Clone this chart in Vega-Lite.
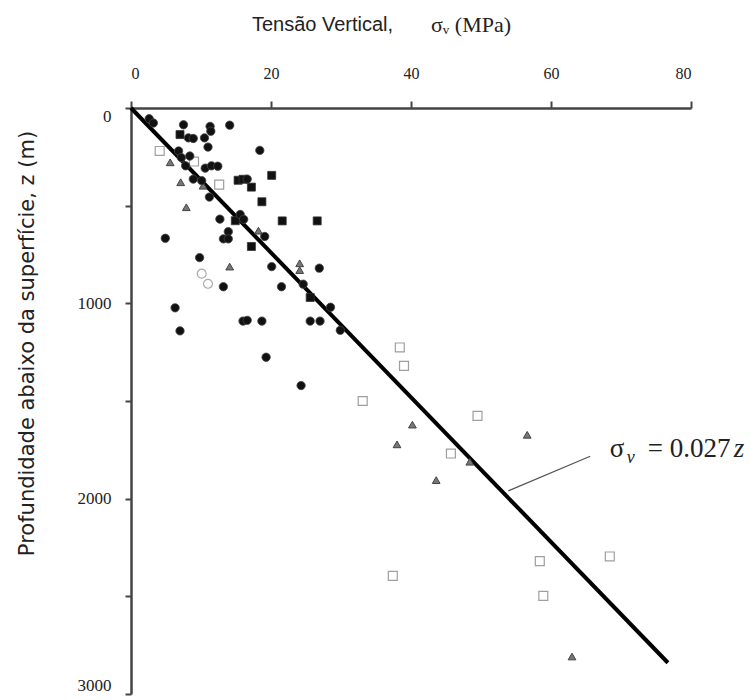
{
  "$schema": "https://vega.github.io/schema/vega-lite/v6.json",
  "width": 560,
  "height": 586,
  "autosize": "none",
  "padding": {"left": 131, "top": 108, "right": 60, "bottom": 6},
  "background": "white",
  "config": {"view": {"stroke": null}, "axis": {"grid": false}},
  "title": {"text": "σᵥ  (MPa)", "anchor": "start", "frame": "group", "dx": 300, "dy": 27, "font": "Liberation Serif", "fontSize": 22, "fontWeight": "normal", "color": "#222"},
  "datasets": {
    "pts": [
      {"sigma": 2.6, "z": 55, "type": "circle"},
      {"sigma": 3.2, "z": 77, "type": "circle"},
      {"sigma": 7.5, "z": 86, "type": "circle"},
      {"sigma": 11.3, "z": 94, "type": "circle"},
      {"sigma": 11.4, "z": 119, "type": "circle"},
      {"sigma": 14.1, "z": 88, "type": "circle"},
      {"sigma": 8.2, "z": 153, "type": "circle"},
      {"sigma": 8.9, "z": 156, "type": "circle"},
      {"sigma": 10.5, "z": 153, "type": "circle"},
      {"sigma": 11.0, "z": 200, "type": "circle"},
      {"sigma": 6.8, "z": 220, "type": "circle"},
      {"sigma": 18.4, "z": 217, "type": "circle"},
      {"sigma": 7.2, "z": 254, "type": "circle"},
      {"sigma": 8.4, "z": 246, "type": "circle"},
      {"sigma": 7.8, "z": 296, "type": "circle"},
      {"sigma": 10.6, "z": 308, "type": "circle"},
      {"sigma": 11.5, "z": 296, "type": "circle"},
      {"sigma": 12.4, "z": 298, "type": "circle"},
      {"sigma": 8.9, "z": 364, "type": "circle"},
      {"sigma": 10.1, "z": 372, "type": "circle"},
      {"sigma": 16.6, "z": 364, "type": "circle"},
      {"sigma": 11.2, "z": 456, "type": "circle"},
      {"sigma": 12.7, "z": 569, "type": "circle"},
      {"sigma": 15.6, "z": 545, "type": "circle"},
      {"sigma": 16.1, "z": 570, "type": "circle"},
      {"sigma": 13.9, "z": 633, "type": "circle"},
      {"sigma": 13.2, "z": 670, "type": "circle"},
      {"sigma": 13.9, "z": 670, "type": "circle"},
      {"sigma": 19.1, "z": 658, "type": "circle"},
      {"sigma": 4.9, "z": 667, "type": "circle"},
      {"sigma": 9.8, "z": 766, "type": "circle"},
      {"sigma": 20.1, "z": 812, "type": "circle"},
      {"sigma": 26.9, "z": 820, "type": "circle"},
      {"sigma": 13.2, "z": 915, "type": "circle"},
      {"sigma": 21.5, "z": 915, "type": "circle"},
      {"sigma": 24.6, "z": 902, "type": "circle"},
      {"sigma": 28.5, "z": 1020, "type": "circle"},
      {"sigma": 6.3, "z": 1023, "type": "circle"},
      {"sigma": 7.0, "z": 1141, "type": "circle"},
      {"sigma": 16.0, "z": 1091, "type": "circle"},
      {"sigma": 16.6, "z": 1087, "type": "circle"},
      {"sigma": 18.7, "z": 1091, "type": "circle"},
      {"sigma": 25.6, "z": 1091, "type": "circle"},
      {"sigma": 27.0, "z": 1091, "type": "circle"},
      {"sigma": 29.9, "z": 1138, "type": "circle"},
      {"sigma": 19.3, "z": 1276, "type": "circle"},
      {"sigma": 24.3, "z": 1421, "type": "circle"},
      {"sigma": 7.0, "z": 136, "type": "square"},
      {"sigma": 15.3, "z": 370, "type": "square"},
      {"sigma": 16.0, "z": 365, "type": "square"},
      {"sigma": 17.2, "z": 405, "type": "square"},
      {"sigma": 20.1, "z": 345, "type": "square"},
      {"sigma": 18.7, "z": 480, "type": "square"},
      {"sigma": 14.9, "z": 577, "type": "square"},
      {"sigma": 21.6, "z": 578, "type": "square"},
      {"sigma": 26.6, "z": 578, "type": "square"},
      {"sigma": 17.2, "z": 709, "type": "square"},
      {"sigma": 25.6, "z": 970, "type": "square"},
      {"sigma": 5.6, "z": 278, "type": "triangle"},
      {"sigma": 7.1, "z": 380, "type": "triangle"},
      {"sigma": 7.9, "z": 508, "type": "triangle"},
      {"sigma": 10.3, "z": 398, "type": "triangle"},
      {"sigma": 18.2, "z": 628, "type": "triangle"},
      {"sigma": 14.1, "z": 812, "type": "triangle"},
      {"sigma": 24.1, "z": 795, "type": "triangle"},
      {"sigma": 24.1, "z": 830, "type": "triangle"},
      {"sigma": 40.2, "z": 1621, "type": "triangle"},
      {"sigma": 38.0, "z": 1722, "type": "triangle"},
      {"sigma": 56.6, "z": 1673, "type": "triangle"},
      {"sigma": 48.4, "z": 1811, "type": "triangle"},
      {"sigma": 43.6, "z": 1905, "type": "triangle"},
      {"sigma": 63.0, "z": 2808, "type": "triangle"},
      {"sigma": 4.1, "z": 220, "type": "opensquare"},
      {"sigma": 9.0, "z": 274, "type": "opensquare"},
      {"sigma": 12.6, "z": 392, "type": "opensquare"},
      {"sigma": 38.4, "z": 1226, "type": "opensquare"},
      {"sigma": 39.0, "z": 1320, "type": "opensquare"},
      {"sigma": 33.1, "z": 1500, "type": "opensquare"},
      {"sigma": 49.5, "z": 1576, "type": "opensquare"},
      {"sigma": 45.7, "z": 1769, "type": "opensquare"},
      {"sigma": 37.4, "z": 2395, "type": "opensquare"},
      {"sigma": 58.4, "z": 2320, "type": "opensquare"},
      {"sigma": 68.4, "z": 2296, "type": "opensquare"},
      {"sigma": 58.9, "z": 2498, "type": "opensquare"},
      {"sigma": 10.1, "z": 848, "type": "opencircle"},
      {"sigma": 11.0, "z": 900, "type": "opencircle"}
    ],
    "fit": [
      {"sigma": 0, "z": 0},
      {"sigma": 76.7, "z": 2840}
    ],
    "leader": [
      {"sigma": 53.9, "z": 1960},
      {"sigma": 65.6, "z": 1783}
    ],
    "note": [
      {"sigma": 68.4, "z": 1788}
    ]
  },
  "encoding": {
    "x": {
      "field": "sigma", "type": "quantitative",
      "scale": {"domain": [0, 80], "nice": false, "zero": false},
      "axis": {
        "orient": "top", "values": [0, 20, 40, 60, 80], "format": "d",
        "tickSize": 7, "tickWidth": 2, "tickColor": "#444",
        "domainWidth": 2.5, "domainColor": "#444",
        "labelFont": "Liberation Serif", "labelFontSize": 16, "labelColor": "#222", "labelPadding": 20,
        "title": "Tensão Vertical,", "titleFont": "Liberation Sans", "titleFontSize": 20, "titleFontWeight": "normal", "titleColor": "#222",
        "titleX": 191, "titleY": -78, "titleAlign": "center", "titleBaseline": "alphabetic"
      }
    },
    "y": {
      "field": "z", "type": "quantitative",
      "scale": {"domain": [0, 3000], "reverse": true, "nice": false, "zero": false},
      "axis": {
        "orient": "left", "values": [0, 500, 1000, 1500, 2000, 2500, 3000],
        "labelExpr": "datum.value % 1000 === 0 ? format(datum.value, 'd') : ''",
        "labelFlush": true,
        "tickSize": 6, "tickWidth": 2, "tickColor": "#444",
        "domainWidth": 2.5, "domainColor": "#444",
        "labelFont": "Liberation Serif", "labelFontSize": 17, "labelColor": "#222", "labelPadding": 14,
        "title": "Profundidade abaixo da superfície, z (m)", "titleFont": "DejaVu Sans", "titleFontSize": 21, "titleFontWeight": "normal", "titleColor": "#222",
        "titleX": -104, "titleY": 235, "titleAngle": -90, "titleAlign": "center", "titleBaseline": "middle"
      }
    }
  },
  "layer": [
    {
      "data": {"name": "fit"},
      "mark": {"type": "line", "color": "#000", "strokeWidth": 4}
    },
    {
      "data": {"name": "leader"},
      "mark": {"type": "line", "color": "#555", "strokeWidth": 1.2}
    },
    {
      "data": {"name": "pts"},
      "transform": [{"filter": "datum.type === 'opensquare'"}],
      "mark": {"type": "point", "shape": "square", "size": 80, "filled": false, "stroke": "#777", "strokeWidth": 1.2}
    },
    {
      "data": {"name": "pts"},
      "transform": [{"filter": "datum.type === 'opencircle'"}],
      "mark": {"type": "point", "shape": "circle", "size": 80, "filled": false, "stroke": "#888", "strokeWidth": 1.2}
    },
    {
      "data": {"name": "pts"},
      "transform": [{"filter": "datum.type === 'triangle'"}],
      "mark": {"type": "point", "shape": "triangle-up", "size": 60, "filled": true, "fill": "#777", "stroke": "#444", "strokeWidth": 1, "opacity": 1}
    },
    {
      "data": {"name": "pts"},
      "transform": [{"filter": "datum.type === 'square'"}],
      "mark": {"type": "point", "shape": "square", "size": 64, "filled": true, "fill": "#111", "stroke": "#333", "strokeWidth": 0.8, "opacity": 1}
    },
    {
      "data": {"name": "pts"},
      "transform": [{"filter": "datum.type === 'circle'"}],
      "mark": {"type": "point", "shape": "circle", "size": 70, "filled": true, "fill": "#111", "stroke": "#444", "strokeWidth": 0.8, "opacity": 1}
    },
    {
      "data": {"name": "note"},
      "mark": {"type": "text", "text": "σ", "align": "left", "baseline": "alphabetic", "font": "Liberation Serif", "fontSize": 27, "color": "#222"}
    },
    {
      "data": {"name": "note"},
      "mark": {"type": "text", "text": "v", "align": "left", "baseline": "alphabetic", "dx": 17, "dy": 6, "font": "Liberation Serif", "fontStyle": "italic", "fontSize": 18, "color": "#222"}
    },
    {
      "data": {"name": "note"},
      "mark": {"type": "text", "text": "= 0.027", "align": "left", "baseline": "alphabetic", "dx": 38, "font": "Liberation Serif", "fontSize": 27, "color": "#222"}
    },
    {
      "data": {"name": "note"},
      "mark": {"type": "text", "text": "z", "align": "left", "baseline": "alphabetic", "dx": 124, "font": "Liberation Serif", "fontStyle": "italic", "fontSize": 27, "color": "#222"}
    }
  ]
}
